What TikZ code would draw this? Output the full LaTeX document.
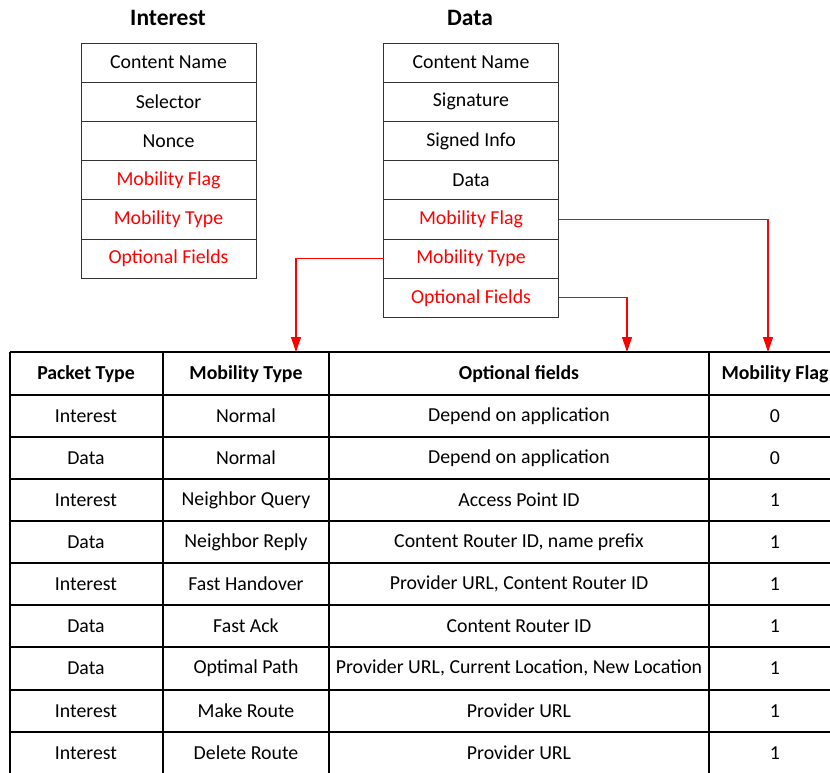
\documentclass[tikz,border=0pt]{standalone}
\usepackage{fontspec}
\setmainfont{Carlito}
\usetikzlibrary{arrows.meta}
\definecolor{flagred}{RGB}{255,0,0}
\tikzset{
  field/.style={draw=black!80, line width=0.9pt, minimum width=175pt, minimum height=39.2pt,
    inner sep=0pt, outer sep=0pt, font=\fontsize{19.8}{22}\selectfont, anchor=north},
  redfield/.style={field, text=flagred},
  title/.style={font=\fontsize{23.5}{26}\selectfont\bfseries},
  cell/.style={font=\fontsize{19.8}{22}\selectfont, inner sep=0pt},
  head/.style={cell, font=\fontsize{19.8}{22}\selectfont\bfseries},
  grid/.style={draw=black, line width=1.1pt},
  link/.style={draw=flagred, line width=1.1pt, -{Triangle[length=15pt,width=10pt]}}
}
\begin{document}
\begin{tikzpicture}[x=1pt,y=-1pt]
\clip (0,0) rectangle (830,772);
\fill[white] (0,0) rectangle (830,772);

% Interest packet
\node[title] (ti) at (168,18) {Interest};
\node[field]    (i1) at (168.5,43)    {Content Name};
\node[field]    (i2) at (i1.south)    {Selector};
\node[field]    (i3) at (i2.south)    {Nonce};
\node[redfield] (i4) at (i3.south)    {Mobility Flag};
\node[redfield] (i5) at (i4.south)    {Mobility Type};
\node[redfield] (i6) at (i5.south)    {Optional Fields};

% Data packet
\node[title] (td) at (470,18) {Data};
\node[field]    (d1) at (471,43)      {Content Name};
\node[field]    (d2) at (d1.south)    {Signature};
\node[field]    (d3) at (d2.south)    {Signed Info};
\node[field]    (d4) at (d3.south)    {Data};
\node[redfield] (d5) at (d4.south)    {Mobility Flag};
\node[redfield] (d6) at (d5.south)    {Mobility Type};
\node[redfield] (d7) at (d6.south)    {Optional Fields};

% Table grid
\draw[grid] (10,352) -- (850,352);
\foreach \y in {395,437,479,521,563,605,647,690,732}
  \draw[grid] (10,\y) -- (850,\y);
\foreach \x in {10,163,329,709}
  \draw[grid] (\x,352) -- (\x,790);

% Header row
\node[head] (h1) at (86,374) {Packet Type};
\node[head] (h2) at (246,374) {Mobility Type};
\node[head] (h3) at (519,374) {Optional fields};
\node[head] (h4) at (775,374) {Mobility Flag};

% Body rows
\foreach \n/\p/\m/\o/\f/\yc in {
  1/Interest/Normal/Depend on application/0/416,
  2/Data/Normal/Depend on application/0/458,
  3/Interest/Neighbor Query/Access Point ID/1/500,
  4/Data/Neighbor Reply/{Content Router ID, name prefix}/1/542,
  5/Interest/Fast Handover/{Provider URL, Content Router ID}/1/584,
  6/Data/Fast Ack/Content Router ID/1/626,
  7/Data/Optimal Path/{Provider URL, Current Location, New Location}/1/668,
  8/Interest/Make Route/Provider URL/1/711,
  9/Interest/Delete Route/Provider URL/1/753}{
  \node[cell] (p\n) at (86,\yc) {\p};
  \node[cell] (m\n) at (246,\yc) {\m};
  \node[cell] (o\n) at (519,\yc) {\o};
  \node[cell] (f\n) at (775,\yc) {\f};
}

% Arrow targets on the table's top edge
\coordinate (tMT) at (296,352);
\coordinate (tOF) at (627,352);
\coordinate (tMF) at (768,352);

% Links from the Data fields to the table columns
\draw[link] (d6.west) -| (tMT);
\draw[link] (d7.east) -| (tOF);
\draw[link] (d5.east) -| (tMF);
\end{tikzpicture}
\end{document}
